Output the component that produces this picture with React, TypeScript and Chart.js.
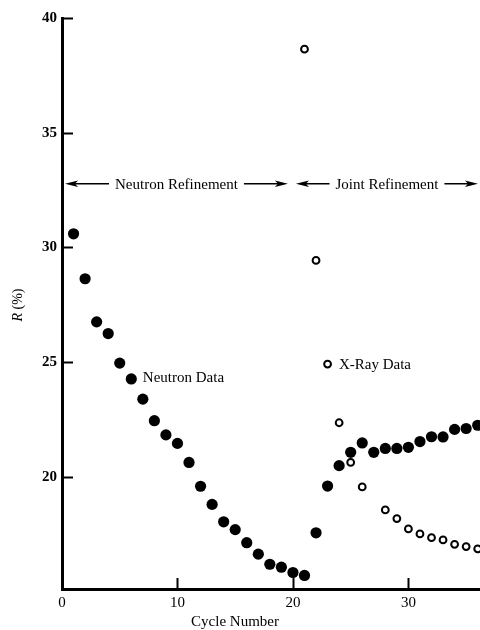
import React, { useEffect, useRef } from 'react';
import { Chart, registerables } from 'chart.js';

Chart.register(...registerables);

// ---- data ----
const NEUTRON_CYCLES = [1, 2, 3, 4, 5, 6, 7, 8, 9, 10, 11, 12, 13, 14, 15, 16, 17, 18, 19, 20, 21, 22, 23, 24, 25, 26, 27, 28, 29, 30, 31, 32, 33, 34, 35, 36];
const NEUTRON_R = [30.59, 28.63, 26.75, 26.24, 24.95, 24.26, 23.38, 22.44, 21.82, 21.45, 20.62, 19.58, 18.79, 18.03, 17.69, 17.12, 16.62, 16.18, 16.05, 15.82, 15.69, 17.55, 19.59, 20.48, 21.06, 21.47, 21.06, 21.23, 21.23, 21.28, 21.53, 21.74, 21.73, 22.06, 22.1, 22.24];
const XRAY_CYCLES = [21, 22, 23, 24, 25, 26, 28, 29, 30, 31, 32, 33, 34, 35, 36];
const XRAY_R = [38.64, 29.43, 24.91, 22.35, 20.62, 19.55, 18.55, 18.17, 17.72, 17.5, 17.34, 17.24, 17.05, 16.95, 16.85];

const X_TICKS = [0, 10, 20, 30];
const Y_TICKS = [20, 25, 30, 35, 40];
const X_MIN = 0;
const X_MAX = 36.2;
const Y_MIN = 15.1;
const Y_MAX = 40;

const PHASE_LABELS = ['Neutron Refinement', 'Joint Refinement'];
const PHASE_STARTS = [0, 20];
const PHASE_ENDS = [20, 36.2];
const PHASE_LEVEL = 32.77;

const SERIES_LABELS = ['Neutron Data', 'X-Ray Data'];
const SERIES_LABEL_X = [7.0, 23.98];
const SERIES_LABEL_Y = [24.36, 24.92];

const X_TITLE = 'Cycle Number';
const Y_TITLE_ITALIC = 'R';
const Y_TITLE_REST = ' (%)';

const FONT = '"Liberation Serif", "DejaVu Serif", serif';

function arrowHead(ctx: CanvasRenderingContext2D, tip: number, y: number, dir: number) {
  const len = 13;
  const hh = 3.2;
  ctx.beginPath();
  ctx.moveTo(tip, y);
  ctx.lineTo(tip - dir * len, y - hh);
  ctx.lineTo(tip - dir * (len - 3), y);
  ctx.lineTo(tip - dir * len, y + hh);
  ctx.closePath();
  ctx.fill();
}

const decor = {
  id: 'decor',
  beforeDraw(chart: any) {
    const { ctx, width, height } = chart;
    ctx.save();
    ctx.fillStyle = '#fff';
    ctx.fillRect(0, 0, width, height);
    ctx.restore();
  },
  afterDraw(chart: any) {
    const { ctx, chartArea } = chart;
    const xs = chart.scales.x;
    const ys = chart.scales.y;
    ctx.save();
    ctx.strokeStyle = '#000';
    ctx.fillStyle = '#000';
    // inward ticks
    ctx.lineWidth = 2;
    Y_TICKS.forEach((v) => {
      const py = Math.round(ys.getPixelForValue(v)) + 0.5;
      ctx.beginPath();
      ctx.moveTo(chartArea.left, py);
      ctx.lineTo(chartArea.left + 11, py);
      ctx.stroke();
    });
    X_TICKS.forEach((v) => {
      if (v === X_MIN) return;
      const px = Math.round(xs.getPixelForValue(v)) + 0.5;
      ctx.beginPath();
      ctx.moveTo(px, chartArea.bottom);
      ctx.lineTo(px, chartArea.bottom - 11);
      ctx.stroke();
    });

    // phase annotations
    ctx.font = `15px ${FONT}`;
    ctx.textAlign = 'center';
    ctx.textBaseline = 'middle';
    const py = ys.getPixelForValue(PHASE_LEVEL);
    PHASE_LABELS.forEach((label, i) => {
      const a = xs.getPixelForValue(PHASE_STARTS[i]) + 3;
      const b = i === PHASE_LABELS.length - 1 ? chartArea.right - 2 : xs.getPixelForValue(PHASE_ENDS[i]) - 5;
      const c = (a + b) / 2;
      const w = ctx.measureText(label).width;
      ctx.fillText(label, c, py + 1);
      ctx.lineWidth = 1.6;
      ctx.beginPath();
      ctx.moveTo(a + 6, py);
      ctx.lineTo(c - w / 2 - 6, py);
      ctx.moveTo(c + w / 2 + 6, py);
      ctx.lineTo(b - 6, py);
      ctx.stroke();
      arrowHead(ctx, a, py, -1);
      arrowHead(ctx, b, py, 1);
    });

    // series labels
    ctx.textAlign = 'left';
    SERIES_LABELS.forEach((label, i) => {
      ctx.fillText(label, xs.getPixelForValue(SERIES_LABEL_X[i]), ys.getPixelForValue(SERIES_LABEL_Y[i]) + 1);
    });

    // x title
    ctx.textAlign = 'center';
    ctx.fillText(X_TITLE, 235, 622);

    // y title
    ctx.translate(18, 305);
    ctx.rotate(-Math.PI / 2);
    ctx.font = `italic 14px ${FONT}`;
    const w1 = ctx.measureText(Y_TITLE_ITALIC).width;
    ctx.font = `14px ${FONT}`;
    const w2 = ctx.measureText(Y_TITLE_REST).width;
    const start = -(w1 + w2) / 2;
    ctx.textAlign = 'left';
    ctx.font = `italic 14px ${FONT}`;
    ctx.fillText(Y_TITLE_ITALIC, start, 0);
    ctx.font = `14px ${FONT}`;
    ctx.fillText(Y_TITLE_REST, start + w1, 0);
    ctx.restore();
  },
};

export default function App() {
  const ref = useRef<HTMLCanvasElement>(null);
  useEffect(() => {
    if (!ref.current) return;
    Chart.defaults.font.family = FONT;
    const chart = new Chart(ref.current, {
      type: 'scatter',
      data: {
        datasets: [
          {
            label: SERIES_LABELS[0],
            data: NEUTRON_CYCLES.map((c, i) => ({ x: c, y: NEUTRON_R[i] })),
            pointRadius: 5.6,
            pointBackgroundColor: '#000',
            pointBorderWidth: 0,
            showLine: false,
            clip: false as any,
          },
          {
            label: SERIES_LABELS[1],
            data: XRAY_CYCLES.map((c, i) => ({ x: c, y: XRAY_R[i] })),
            pointRadius: 3.4,
            pointBackgroundColor: '#fff',
            pointBorderColor: '#000',
            pointBorderWidth: 2,
            showLine: false,
            clip: false as any,
          },
        ],
      },
      options: {
        animation: false,
        responsive: false,
        layout: { autoPadding: false, padding: { top: 18, right: 0, left: 0, bottom: 0 } },
        plugins: { legend: { display: false }, tooltip: { enabled: false } },
        scales: {
          x: {
            type: 'linear',
            min: X_MIN,
            max: X_MAX,
            grid: { display: false, drawTicks: false },
            border: { display: true, color: '#000', width: 3 },
            ticks: { color: '#000', font: { size: 15, family: FONT }, padding: 5, maxRotation: 0 },
            afterBuildTicks: (s: any) => { s.ticks = X_TICKS.map((v) => ({ value: v })); },
            afterFit: (s: any) => { s.height = 41; },
          },
          y: {
            type: 'linear',
            min: Y_MIN,
            max: Y_MAX,
            grid: { display: false, drawTicks: false },
            border: { display: true, color: '#000', width: 3 },
            ticks: { color: '#000', font: { size: 15, family: FONT, weight: 'bold' }, padding: 5 },
            afterBuildTicks: (s: any) => { s.ticks = Y_TICKS.map((v) => ({ value: v })); },
            afterFit: (s: any) => { s.width = 62; },
          },
        },
      },
      plugins: [decor],
    });
    return () => chart.destroy();
  }, []);
  return (
    <canvas
      ref={ref}
      width={480}
      height={630}
      style={{ position: 'absolute', left: 0, top: 0, width: 480, height: 630, display: 'block' }}
    />
  );
}
